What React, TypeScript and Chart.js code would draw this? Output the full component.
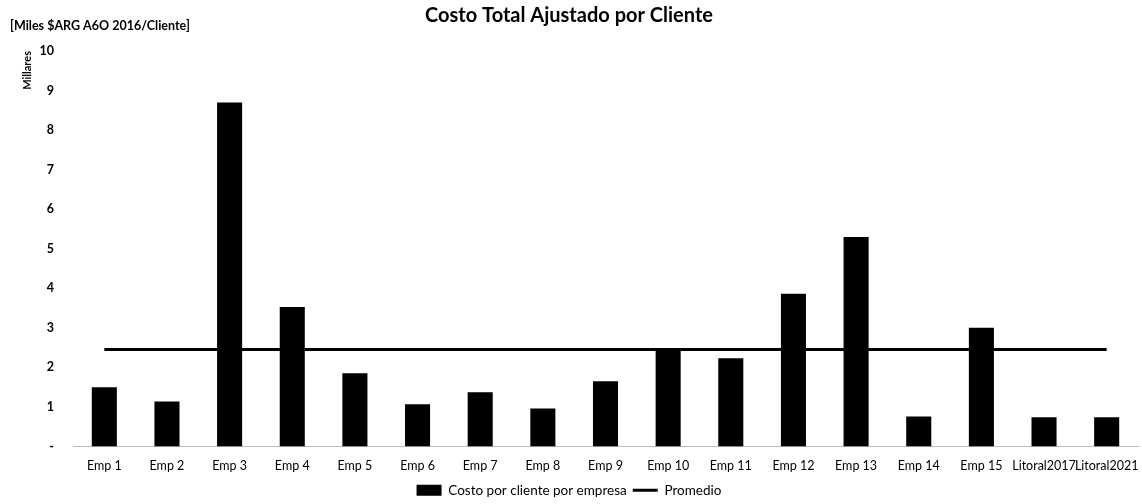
import React, { useEffect, useRef } from "react";
import { Chart, registerables } from "chart.js";

Chart.register(...registerables);

const CATEGORIES = [
  "Emp 1", "Emp 2", "Emp 3", "Emp 4", "Emp 5", "Emp 6", "Emp 7", "Emp 8", "Emp 9",
  "Emp 10", "Emp 11", "Emp 12", "Emp 13", "Emp 14", "Emp 15", "Litoral2017", "Litoral2021",
];

const COSTO_POR_CLIENTE = [
  1.5, 1.14, 8.7, 3.53, 1.85, 1.07, 1.37, 0.96, 1.65,
  2.49, 2.23, 3.86, 5.3, 0.76, 3.0, 0.74, 0.74,
];

const PROMEDIO = [
  2.45, 2.45, 2.45, 2.45, 2.45, 2.45, 2.45, 2.45, 2.45,
  2.45, 2.45, 2.45, 2.45, 2.45, 2.45, 2.45, 2.45,
];

const Y_TICKS = [0, 1, 2, 3, 4, 5, 6, 7, 8, 9, 10];

const TITLE = "Costo Total Ajustado por Cliente";
const UNIT_LABEL = "[Miles $ARG A6O 2016/Cliente]";
const Y_TITLE = "Millares";
const SERIES_BAR = "Costo por cliente por empresa";
const SERIES_LINE = "Promedio";

const FONT = "Lato, 'Open Sans', sans-serif";

const unitLabelPlugin = {
  id: "unitLabel",
  afterDraw(chart: any) {
    const ctx = chart.ctx;
    ctx.save();
    ctx.font = `bold 12.5px ${FONT}`;
    ctx.fillStyle = "#000";
    ctx.textAlign = "left";
    ctx.textBaseline = "middle";
    ctx.fillText(UNIT_LABEL, 10, 26);
    ctx.restore();
  },
};

export default function App() {
  const ref = useRef<HTMLCanvasElement | null>(null);

  useEffect(() => {
    if (!ref.current) return;
    const chart = new Chart(ref.current, {
      data: {
        labels: CATEGORIES,
        datasets: [
          {
            type: "bar",
            label: SERIES_BAR,
            data: COSTO_POR_CLIENTE,
            backgroundColor: "#000",
            borderWidth: 0,
            barPercentage: 0.8,
            categoryPercentage: 0.5,
          },
          {
            type: "line",
            label: SERIES_LINE,
            data: PROMEDIO,
            borderColor: "#000",
            backgroundColor: "#000",
            borderWidth: 3,
            pointRadius: 0,
            fill: false,
          },
        ],
      } as any,
      options: {
        animation: false,
        responsive: false,
        maintainAspectRatio: false,
        layout: { padding: { left: 0, right: 4, top: 0, bottom: -3 } },
        plugins: {
          title: {
            display: true,
            text: TITLE,
            color: "#000",
            font: { family: FONT, size: 20, weight: "bold" },
            padding: { top: 4, bottom: 23 },
          },
          legend: {
            display: true,
            position: "bottom",
            labels: {
              color: "#000",
              font: { family: FONT, size: 13.5 },
              padding: 6,
              usePointStyle: true,
              pointStyleWidth: 25,
              boxHeight: 11,
              generateLabels: (c: any) => {
                const items = (Chart.defaults.plugins.legend.labels as any).generateLabels(c);
                items.forEach((it: any) => {
                  if (it.datasetIndex === 0) {
                    it.pointStyle = "rect";
                  } else {
                    it.pointStyle = "line";
                    it.lineWidth = 3;
                    it.strokeStyle = "#000";
                  }
                });
                return items;
              },
            },
          },
          tooltip: { enabled: false },
        },
        scales: {
          x: {
            type: "category",
            grid: {
              display: true,
              drawOnChartArea: false,
              drawTicks: true,
              tickLength: 12,
              color: "rgba(0,0,0,0)",
            },
            border: { display: true, color: "#bbb", width: 1, dash: [2, 2] },
            ticks: {
              color: "#000",
              font: { family: FONT, size: 12.5 },
              padding: 0,
              maxRotation: 0,
              autoSkip: false,
            },
            afterFit: (s: any) => {
              s.height = 31;
            },
          },
          y: {
            type: "linear",
            min: 0,
            max: 10,
            grid: { display: false, drawTicks: false },
            border: { display: false },
            afterBuildTicks: (s: any) => {
              s.ticks = Y_TICKS.map((v) => ({ value: v }));
            },
            ticks: {
              color: "#000",
              font: { family: FONT, size: 12.5, weight: "bold" },
              padding: 19,
              callback: (v: any) => (Number(v) === 0 ? "-" : String(v)),
            },
            title: {
              display: true,
              text: Y_TITLE,
              align: "end",
              color: "#000",
              font: { family: FONT, size: 11, weight: "bold" },
              padding: { top: 21, bottom: 0 },
            },
            afterFit: (s: any) => {
              s.width = 73;
            },
          },
        },
      } as any,
      plugins: [unitLabelPlugin],
    });
    return () => chart.destroy();
  }, []);

  return (
    <div style={{ position: "absolute", left: 0, top: 0, width: 1142, height: 504, background: "#fff" }}>
      <canvas ref={ref} width={1142} height={504} style={{ width: 1142, height: 504, display: "block" }} />
    </div>
  );
}
